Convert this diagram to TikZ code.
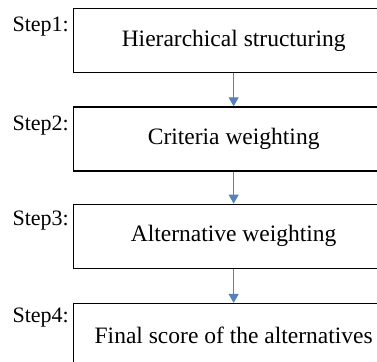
\documentclass[tikz,border=0pt]{standalone}
\usepackage{fontspec}
\setmainfont{Liberation Serif}
\usetikzlibrary{positioning,arrows.meta}
\definecolor{arrowblue}{RGB}{84,130,185}
\tikzset{
  stagebox/.style={draw, line width=1.3pt, minimum width=320pt, minimum height=64pt, inner sep=0pt, font=\fontsize{23.5}{28}\selectfont},
  steplabel/.style={anchor=base east, inner sep=0pt, font=\fontsize{22}{26}\selectfont},
  flow/.style={draw=arrowblue, line width=1pt, -{Triangle[length=9pt,width=10pt,fill=arrowblue]}}
}
\begin{document}
\begin{tikzpicture}[x=1pt,y=1pt]
\useasboundingbox (0,0) rectangle (377,-361);
\clip (0,0) rectangle (377,-361);
\node[stagebox, anchor=north west] (b1) at (73,-8) {Hierarchical structuring};
\node[stagebox, below=33pt of b1] (b2) {Criteria weighting};
\node[stagebox, below=32pt of b2] (b3) {Alternative weighting};
\node[stagebox, below=34pt of b3] (b4) {Final score of the alternatives};
\node[steplabel] (s1) at ([xshift=-4pt,yshift=-24pt]b1.north west) {Step1:};
\node[steplabel] (s2) at ([xshift=-4pt,yshift=-24pt]b2.north west) {Step2:};
\node[steplabel] (s3) at ([xshift=-4pt,yshift=-22pt]b3.north west) {Step3:};
\node[steplabel] (s4) at ([xshift=-4pt,yshift=-20pt]b4.north west) {Step4:};
\draw[flow] (b1) -- (b2);
\draw[flow] (b2) -- (b3);
\draw[flow] (b3) -- (b4);
\end{tikzpicture}
\end{document}
